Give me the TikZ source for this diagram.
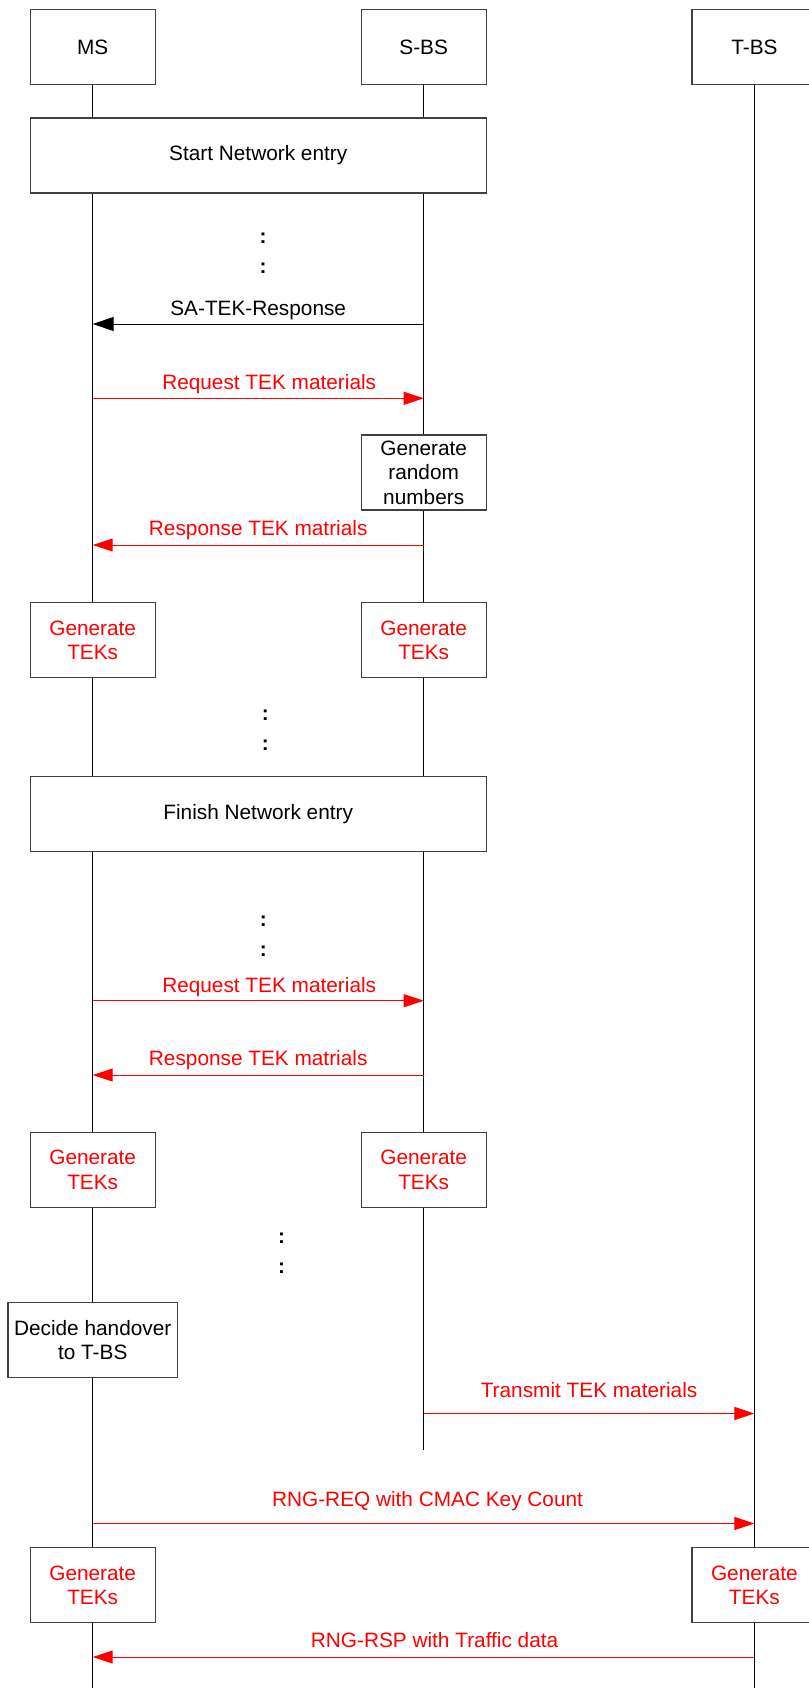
\documentclass[tikz,border=0pt]{standalone}
\usepackage{fontspec}
\setmainfont{Liberation Sans}
\usetikzlibrary{arrows.meta}
\definecolor{boxgray}{HTML}{404040}
\begin{document}
\begin{tikzpicture}[x=1pt,y=-1pt,
    font=\fontsize{20.8}{24.5}\selectfont,
    box/.style={draw=boxgray,line width=1.3pt,fill=white,minimum width=125pt,minimum height=75pt,inner sep=0pt,align=center},
    widebox/.style={box,minimum width=456pt},
    life/.style={line width=1pt},
    msg/.style={line width=1pt,-{Triangle[length=20pt,width=13pt]}},
    redmsg/.style={msg,red},
    lbl/.style={inner sep=0pt,text depth=0pt},
    gap/.style={font=\bfseries\fontsize{20.8}{30.5}\selectfont,align=center,inner sep=0pt}]
      \useasboundingbox (0,0) rectangle (808,1688);
      \node [box] (ms) at (92.7,47.2) {MS};
      \node [box] (sbs) at (423.7,47.2) {S-BS};
      \node [box] (tbs) at (754.4,47.2) {T-BS};
      \coordinate (msend) at (92.7,1688);
      \coordinate (sbsend) at (423.7,1450);
      \coordinate (tbsend) at (754.4,1688);
      \draw [life] (ms) -- (msend);
      \draw [life] (sbs) -- (sbsend);
      \draw [life] (tbs) -- (tbsend);
      \node [widebox] (start) at (258.2,155.5) {Start Network entry};
      \node [gap] (dotsa) at (263,253.3) {:\\:};
      \coordinate (ms1) at (92.7,324);
      \coordinate (sbs1) at (423.7,324);
      \draw [line width=1pt,-{Triangle[length=21pt,width=14pt]}] (sbs1) -- node[lbl,above=8.3pt] {SA-TEK-Response} (ms1);
      \coordinate (ms2) at (92.7,398.3);
      \coordinate (sbs2) at (423.7,398.3);
      \draw [redmsg] (ms2) -- node[lbl,above=8pt,xshift=11pt] {Request TEK materials} (sbs2);
      \node [box] (rand) at (423.7,472.5) {Generate\\random\\numbers};
      \coordinate (ms3) at (92.7,545);
      \coordinate (sbs3) at (423.7,545);
      \draw [redmsg] (sbs3) -- node[lbl,above=9pt] {Response TEK matrials} (ms3);
      \node [box,text=red] (tekma) at (92.7,640.2) {Generate\\TEKs};
      \node [box,text=red] (tekba) at (423.7,640.2) {Generate\\TEKs};
      \node [gap] (dotsb) at (265.3,730) {:\\:};
      \node [widebox] (finish) at (258.2,813.7) {Finish Network entry};
      \node [gap] (dotsc) at (263.3,936) {:\\:};
      \coordinate (ms4) at (92.7,1000.7);
      \coordinate (sbs4) at (423.7,1000.7);
      \draw [redmsg] (ms4) -- node[lbl,above=8pt,xshift=11pt] {Request TEK materials} (sbs4);
      \coordinate (ms5) at (92.7,1075);
      \coordinate (sbs5) at (423.7,1075);
      \draw [redmsg] (sbs5) -- node[lbl,above=9pt] {Response TEK matrials} (ms5);
      \node [box,text=red] (tekmb) at (92.7,1169.7) {Generate\\TEKs};
      \node [box,text=red] (tekbb) at (423.7,1169.7) {Generate\\TEKs};
      \node [gap] (dotsd) at (281.7,1253) {:\\:};
      \node [box,minimum width=169.3pt] (decide) at (92.7,1340.2) {Decide handover\\to T-BS};
      \coordinate (sbs6) at (423.7,1413.5);
      \coordinate (tbs6) at (754.4,1413.5);
      \draw [redmsg] (sbs6) -- node[lbl,above=16pt] {Transmit TEK materials} (tbs6);
      \coordinate (ms7) at (92.7,1523.5);
      \coordinate (tbs7) at (754.4,1523.5);
      \draw [redmsg] (ms7) -- node[lbl,above=17pt,xshift=4pt] {RNG-REQ with CMAC Key Count} (tbs7);
      \node [box,text=red] (tekmc) at (92.7,1585.2) {Generate\\TEKs};
      \node [box,text=red] (tektc) at (754.4,1585.2) {Generate\\TEKs};
      \coordinate (ms8) at (92.7,1657);
      \coordinate (tbs8) at (754.4,1657);
      \draw [redmsg] (tbs8) -- node[lbl,above=9pt,xshift=11pt] {RNG-RSP with Traffic data} (ms8);
\end{tikzpicture}
\end{document}
